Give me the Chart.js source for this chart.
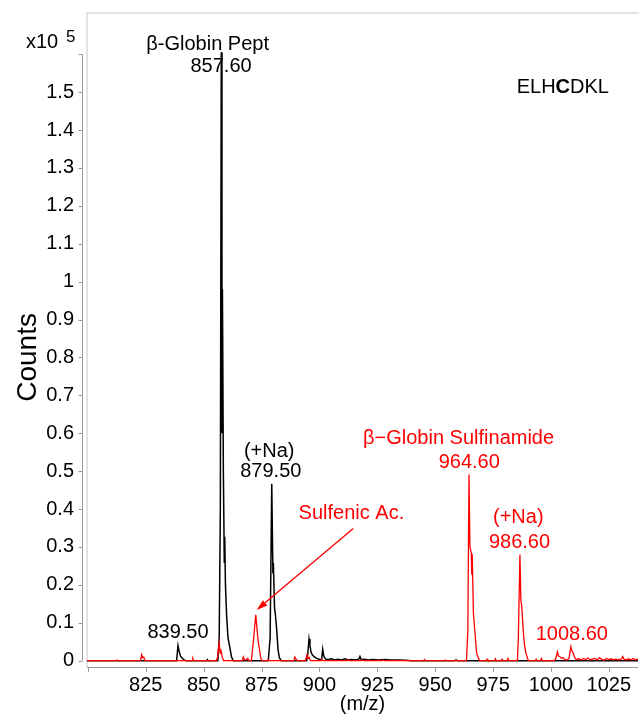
<!DOCTYPE html>
<html>
<head>
<meta charset="utf-8">
<script src="https://cdn.jsdelivr.net/npm/chart.js@4"></script>
<style>
  html, body { margin: 0; padding: 0; background: #fff; }
  canvas { display: block; }
</style>
</head>
<body>
<canvas id="c" width="639" height="716"></canvas>
<script>
// ---- Data (counts in units of 10^5) ----
const blackMz = [799.6, 838.3, 838.9, 839.4, 840.0, 840.6, 841.4, 842.3, 851.3, 851.6, 851.9,
  856.1, 856.7, 857.2, 857.6, 857.9, 858.1, 858.5, 858.9, 859.1, 859.4, 859.9, 860.5, 861.3, 862.0, 862.8,
  877.9, 878.7, 879.4, 879.9, 880.1, 880.6, 881.0, 881.5, 882.1, 882.7, 883.5,
  894.5, 895.0, 895.5, 895.9, 896.4, 897.0, 897.8, 898.8, 899.8, 900.6, 901.0, 901.4, 901.8, 902.2, 902.8,
  904.0, 905.2, 906.5, 908.0, 909.5, 911.0, 912.5, 914.0, 915.5, 917.0, 917.5, 918.0, 919.5, 921.0,
  923.0, 925.5, 928.0, 931.0, 934.0, 937.0, 940.0, 958.5, 959.0, 959.5, 1037.6];
const blackCounts = [0, 0, 0.04, 0.025, 0.012, 0.008, 0.003, 0, 0, 0.003, 0,
  0, 0.06, 0.4, 1.605, 0.6, 0.98, 0.5, 0.26, 0.327, 0.2, 0.12, 0.06, 0.035, 0.01, 0,
  0, 0.06, 0.467, 0.23, 0.258, 0.14, 0.12, 0.085, 0.03, 0.008, 0,
  0, 0.02, 0.057, 0.04, 0.022, 0.015, 0.01, 0.006, 0.004, 0.002, 0.006, 0.03, 0.014, 0.008, 0.004,
  0.003, 0.005, 0.002, 0.004, 0.002, 0.005, 0.002, 0.003, 0.002, 0.004, 0.011, 0.003, 0.004, 0.002,
  0.003, 0.002, 0.003, 0.002, 0.002, 0.001, 0, 0, 0.002, 0, 0];

const redMz = [799.6, 812.0, 812.5, 813.0, 822.7, 823.2, 823.6, 824.1, 824.6, 845.0, 845.3, 845.7,
  855.5, 856.0, 856.7, 857.1, 857.4, 858.0, 858.6, 866.7, 867.1, 867.6, 868.4, 869.0, 869.6,
  870.6, 871.4, 872.5, 873.2, 873.6, 874.0, 874.5, 875.0, 877.5, 877.9, 878.3,
  888.9, 889.4, 889.9, 890.5, 893.9, 894.6, 895.1, 895.5, 896.1, 900.6, 901.0, 901.5,
  912.0, 912.4, 912.8, 918.0, 918.5, 919.0, 927.0, 927.5, 928.0, 945.0, 945.4, 945.8, 954.0, 954.4, 954.8,
  963.5, 964.1, 964.6, 965.0, 965.6, 965.8, 966.0, 966.5, 967.2, 967.9, 968.5, 969.2,
  972.0, 972.4, 972.8, 975.6, 976.0, 976.4, 978.5, 978.9, 979.3, 981.0, 981.4, 981.8,
  985.5, 985.9, 986.6, 987.0, 987.4, 988.1, 988.6, 989.2, 990.2, 993.2, 993.6, 994.0, 995.5, 995.9, 996.3,
  1001.5, 1002.1, 1002.8, 1003.3, 1004.0, 1004.6, 1005.3, 1006.0, 1007.0, 1007.8, 1008.6, 1009.1, 1009.6,
  1010.3, 1011.0, 1012.0, 1013.0, 1014.0, 1015.0, 1016.0, 1017.0, 1018.0, 1019.0, 1020.0, 1021.0, 1022.0,
  1023.0, 1024.0, 1025.0, 1026.0, 1027.0, 1028.0, 1029.0, 1030.5, 1031.0, 1031.5, 1032.5, 1033.5, 1034.5,
  1035.5, 1036.5, 1037.6];
const redCounts = [0, 0, 0.002, 0, 0, 0.016, 0.008, 0.01, 0, 0, 0.006, 0,
  0, 0.01, 0.046, 0.02, 0.03, 0.01, 0, 0, 0.01, 0.003, 0.002, 0.006, 0,
  0, 0.047, 0.121, 0.073, 0.05, 0.034, 0.012, 0, 0, 0.003, 0,
  0, 0.01, 0.004, 0, 0, 0.015, 0.006, 0.009, 0, 0, 0.004, 0,
  0, 0.003, 0, 0, 0.002, 0, 0, 0.002, 0, 0, 0.003, 0, 0, 0.002, 0,
  0, 0.08, 0.491, 0.3, 0.284, 0.227, 0.28, 0.125, 0.073, 0.02, 0.01, 0,
  0, 0.004, 0, 0, 0.005, 0, 0, 0.004, 0, 0, 0.006, 0,
  0, 0.055, 0.28, 0.16, 0.143, 0.073, 0.04, 0.02, 0, 0, 0.004, 0, 0, 0.006, 0,
  0, 0.006, 0.024, 0.012, 0.01, 0.006, 0.008, 0.003, 0.002, 0.006, 0.037, 0.025, 0.02,
  0.008, 0.003, 0.005, 0.002, 0.006, 0.003, 0.007, 0.002, 0.005, 0.006, 0.002, 0.008, 0.003,
  0.002, 0.006, 0.003, 0.005, 0.002, 0.004, 0.002, 0.005, 0.011, 0.004, 0.002, 0.005, 0.002,
  0.006, 0.002, 0.004];

const xTickValues = [800, 825, 850, 875, 900, 925, 950, 975, 1000, 1025];
const xTickLabels = ['', '825', '850', '875', '900', '925', '950', '975', '1000', '1025'];
const yTickValues = [0, 0.1, 0.2, 0.3, 0.4, 0.5, 0.6, 0.7, 0.8, 0.9, 1.0, 1.1, 1.2, 1.3, 1.4, 1.5, 1.6];
const yTickLabels = ['0', '0.1', '0.2', '0.3', '0.4', '0.5', '0.6', '0.7', '0.8', '0.9', '1', '1.1', '1.2', '1.3', '1.4', '1.5', ''];

// Peak annotations anchored in data space (m/z, counts) – text baseline, centered
const labelText  = ['β-Globin Pept', '857.60', '(+Na)', '879.50', '839.50', 'Sulfenic Ac.', 'β−Globin Sulfinamide', '964.60', '(+Na)', '986.60', '1008.60'];
const labelMz    = [851.7, 857.5, 878.3, 879.0, 838.9, 913.8, 960.1, 964.7, 985.9, 986.4, 1009.0];
const labelCount = [1.611, 1.554, 0.537, 0.484, 0.059, 0.374, 0.571, 0.5075, 0.362, 0.2965, 0.0546];
const labelColor = ['#000', '#000', '#000', '#000', '#000', '#ff0000', '#ff0000', '#ff0000', '#ff0000', '#ff0000', '#ff0000'];

const arrowFrom = [914.6, 0.349];
const arrowTo   = [872.9, 0.134];
const seqAnchor = [985.2, 1.4967];

const FONT = "'Liberation Sans', Arial, sans-serif";
const FS = 20;

const toPts = (xs, ys) => xs.map((v, i) => ({ x: v, y: ys[i] }));

const overlay = {
  id: 'overlay',
  beforeDatasetsDraw(chart) {
    const { ctx, chartArea: a } = chart;
    ctx.save();
    ctx.strokeStyle = '#e3e3e3';
    ctx.lineWidth = 2;
    ctx.beginPath();
    ctx.moveTo(a.left, a.bottom);
    ctx.lineTo(a.left, a.top);
    ctx.lineTo(chart.width, a.top);
    ctx.stroke();
    ctx.restore();
  },
  afterDraw(chart) {
    const { ctx, chartArea: a, scales: { x, y } } = chart;
    ctx.save();
    // y axis line & ticks
    const ax = a.left - 4.5;
    const yTop = y.getPixelForValue(yTickValues[yTickValues.length - 1]);
    const yBot = y.getPixelForValue(yTickValues[0]);
    ctx.strokeStyle = '#9a9a9a';
    ctx.lineWidth = 1;
    ctx.beginPath();
    ctx.moveTo(ax, yTop); ctx.lineTo(ax, yBot);
    yTickValues.forEach(v => {
      const py = Math.round(y.getPixelForValue(v)) + 0.5;
      ctx.moveTo(ax - 4, py); ctx.lineTo(ax, py);
    });
    ctx.stroke();
    // x axis line & ticks
    const ay = a.bottom + 0.5;
    ctx.beginPath();
    ctx.moveTo(a.left, ay); ctx.lineTo(a.right, ay);
    xTickValues.forEach(v => {
      const px = Math.round(x.getPixelForValue(v)) + 0.5;
      ctx.moveTo(px, ay); ctx.lineTo(px, ay + 4.5);
    });
    ctx.stroke();

    // y title "Counts"
    ctx.fillStyle = '#000';
    ctx.save();
    ctx.translate(28, (yTop + yBot) / 2);
    ctx.rotate(-Math.PI / 2);
    ctx.font = '28px ' + FONT;
    ctx.textAlign = 'center';
    ctx.textBaseline = 'middle';
    ctx.fillText('Counts', 0, 0);
    ctx.restore();

    // multiplier x10^5
    ctx.textAlign = 'left';
    ctx.textBaseline = 'alphabetic';
    ctx.font = FS + 'px ' + FONT;
    ctx.fillText('x10', 26, 48);
    ctx.font = '17px ' + FONT;
    ctx.fillText('5', 66, 42);

    // peak labels
    ctx.font = FS + 'px ' + FONT;
    ctx.textAlign = 'center';
    labelText.forEach((t, i) => {
      ctx.fillStyle = labelColor[i];
      ctx.fillText(t, x.getPixelForValue(labelMz[i]), y.getPixelForValue(labelCount[i]));
    });

    // sequence with bold C
    const sx = x.getPixelForValue(seqAnchor[0]);
    const sy = y.getPixelForValue(seqAnchor[1]);
    ctx.textAlign = 'left';
    ctx.fillStyle = '#000';
    const parts = [['ELH', false], ['C', true], ['DKL', false]];
    let cx = sx;
    parts.forEach(([s, b]) => {
      ctx.font = (b ? 'bold ' : '') + FS + 'px ' + FONT;
      ctx.fillText(s, cx, sy);
      cx += ctx.measureText(s).width;
    });

    // arrow
    const x1 = x.getPixelForValue(arrowFrom[0]), y1 = y.getPixelForValue(arrowFrom[1]);
    const x2 = x.getPixelForValue(arrowTo[0]), y2 = y.getPixelForValue(arrowTo[1]);
    const ang = Math.atan2(y2 - y1, x2 - x1);
    const hl = 11, hw = 3.5;
    const bx = x2 - hl * Math.cos(ang), by = y2 - hl * Math.sin(ang);
    ctx.strokeStyle = '#ff0000';
    ctx.fillStyle = '#ff0000';
    ctx.lineWidth = 1.3;
    ctx.beginPath();
    ctx.moveTo(x1, y1); ctx.lineTo(bx, by);
    ctx.stroke();
    ctx.beginPath();
    ctx.moveTo(x2, y2);
    ctx.lineTo(bx + hw * Math.sin(ang), by - hw * Math.cos(ang));
    ctx.lineTo(bx - hw * Math.sin(ang), by + hw * Math.cos(ang));
    ctx.closePath();
    ctx.fill();
    ctx.restore();
  }
};

const noEdgePadding = s => { s.paddingTop = 0; s.paddingBottom = 0; s.paddingLeft = 0; s.paddingRight = 0; };

new Chart(document.getElementById('c'), {
  type: 'line',
  data: {
    datasets: [
      { label: 'Sulfinamide', data: toPts(redMz, redCounts), borderColor: '#ff0000', borderWidth: 1.3,
        pointRadius: 0, tension: 0, fill: false },
      { label: 'Peptide', data: toPts(blackMz, blackCounts), borderColor: '#000000', borderWidth: 1.5,
        pointRadius: 0, tension: 0, fill: false }
    ]
  },
  options: {
    responsive: false,
    animation: false,
    devicePixelRatio: 1,
    layout: { padding: { top: 13, right: 1, left: 0, bottom: 0 } },
    plugins: { legend: { display: false }, tooltip: { enabled: false } },
    scales: {
      x: {
        type: 'linear', min: 799.6, max: 1037.6,
        grid: { display: false, drawTicks: false, tickLength: 0 }, border: { display: false },
        afterBuildTicks: s => { s.ticks = xTickValues.map(v => ({ value: v })); },
        afterFit: s => { s.height = 49; noEdgePadding(s); },
        ticks: { callback: (v, i) => xTickLabels[i], font: { family: FONT, size: FS }, color: '#000',
                 padding: 6, maxRotation: 0, autoSkip: false },
        title: { display: true, text: '(m/z)', font: { family: FONT, size: FS }, color: '#000', padding: 0 }
      },
      y: {
        type: 'linear', min: -0.0166, max: 1.7086,
        grid: { display: false, drawTicks: false, tickLength: 0 }, border: { display: false },
        afterBuildTicks: s => { s.ticks = yTickValues.map(v => ({ value: v })); },
        afterFit: s => { s.width = 87; noEdgePadding(s); },
        ticks: { callback: (v, i) => yTickLabels[i], font: { family: FONT, size: FS }, color: '#000',
                 padding: 13, autoSkip: false }
      }
    }
  },
  plugins: [overlay]
});
</script>
</body>
</html>
